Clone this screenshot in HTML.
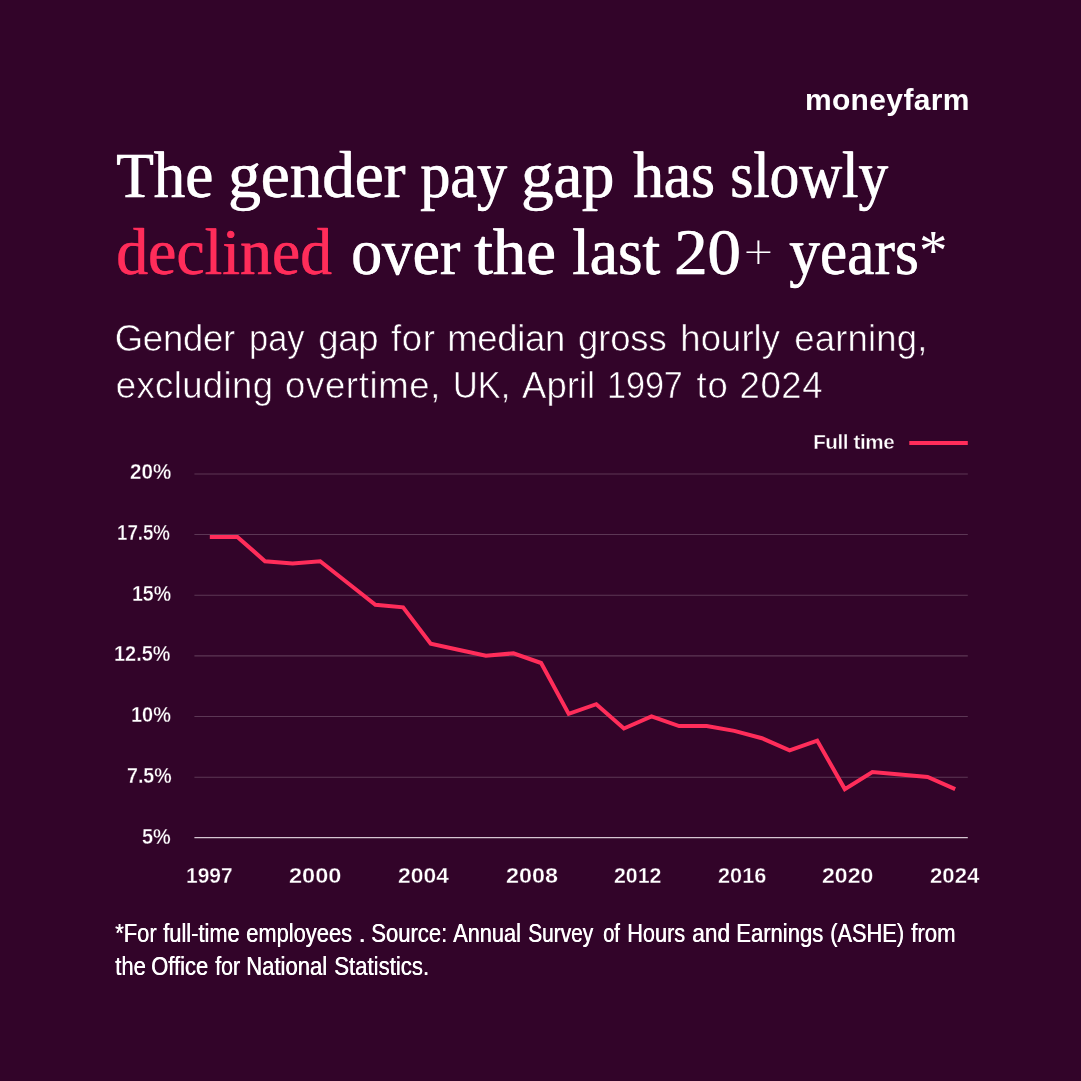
<!DOCTYPE html>
<html><head><meta charset="utf-8"><title>Gender pay gap</title>
<style>
html,body,h1,p,header,footer{margin:0;padding:0;}
body{width:1081px;height:1081px;background:#320429;position:relative;overflow:hidden;font-family:"Liberation Sans",sans-serif;color:#fff;}
.w{position:absolute;white-space:nowrap;line-height:1;display:block;}
svg{position:absolute;left:0;top:0;}
</style></head><body>
<svg width="1081" height="1081" viewBox="0 0 1081 1081">
<g stroke="#5c3755" stroke-width="1.1"><line x1="194.4" x2="967.8" y1="474.0" y2="474.0"/><line x1="194.4" x2="967.8" y1="534.5" y2="534.5"/><line x1="194.4" x2="967.8" y1="595.3" y2="595.3"/><line x1="194.4" x2="967.8" y1="655.9" y2="655.9"/><line x1="194.4" x2="967.8" y1="716.5" y2="716.5"/><line x1="194.4" x2="967.8" y1="777.2" y2="777.2"/></g>
<line x1="194.4" x2="967.8" y1="837.6" y2="837.6" stroke="#d5c6d1" stroke-width="1.2"/>
<line x1="909.3" x2="967.8" y1="443" y2="443" stroke="#ff2d5a" stroke-width="4.1"/>
<polyline fill="none" stroke="#ff2d5a" stroke-width="4" stroke-linejoin="miter" points="209.8,536.9 237.4,536.9 265.0,561.2 292.6,563.6 320.2,561.2 347.8,583.0 375.4,604.8 403.1,607.3 430.7,643.6 458.3,649.7 485.9,655.8 513.5,653.3 541.1,663.0 568.7,713.9 596.3,704.2 623.9,728.5 651.5,716.4 679.1,726.1 706.7,726.1 734.3,730.9 761.9,738.2 789.6,750.3 817.2,740.6 844.8,789.1 872.4,772.1 900.0,774.6 927.6,777.0 955.2,789.1"/>
</svg>
<header>
<span class="w" style="left:804.90px;top:85.20px;font-family:'Liberation Sans',sans-serif;font-size:30px;font-weight:bold;letter-spacing:0.362px;color:#fff;">moneyfarm</span>
</header>
<h1>
<span class="w" style="left:116.34px;top:142.30px;font-family:'Liberation Serif',serif;font-size:66px;font-weight:normal;color:#fff;transform:scaleX(0.9576);transform-origin:0 0;-webkit-text-stroke:0.3px currentColor;text-shadow:0.7px 0 0 currentColor;"><span style="font-size:64px">T</span>he</span>
<span class="w" style="left:227.93px;top:142.30px;font-family:'Liberation Serif',serif;font-size:66px;font-weight:normal;color:#fff;transform:scaleX(0.9865);transform-origin:0 0;-webkit-text-stroke:0.3px currentColor;text-shadow:0.7px 0 0 currentColor;">gender</span>
<span class="w" style="left:420.09px;top:142.30px;font-family:'Liberation Serif',serif;font-size:66px;font-weight:normal;color:#fff;transform:scaleX(0.9116);transform-origin:0 0;-webkit-text-stroke:0.3px currentColor;text-shadow:0.7px 0 0 currentColor;">pay</span>
<span class="w" style="left:521.35px;top:142.30px;font-family:'Liberation Serif',serif;font-size:66px;font-weight:normal;color:#fff;transform:scaleX(0.9772);transform-origin:0 0;-webkit-text-stroke:0.3px currentColor;text-shadow:0.7px 0 0 currentColor;">gap</span>
<span class="w" style="left:632.50px;top:142.30px;font-family:'Liberation Serif',serif;font-size:66px;font-weight:normal;color:#fff;transform:scaleX(0.9276);transform-origin:0 0;-webkit-text-stroke:0.3px currentColor;text-shadow:0.7px 0 0 currentColor;">has</span>
<span class="w" style="left:729.91px;top:142.30px;font-family:'Liberation Serif',serif;font-size:66px;font-weight:normal;color:#fff;transform:scaleX(0.8971);transform-origin:0 0;-webkit-text-stroke:0.3px currentColor;text-shadow:0.7px 0 0 currentColor;">slowly</span>
<span class="w" style="left:116.47px;top:219.30px;font-family:'Liberation Serif',serif;font-size:66px;font-weight:normal;color:#ff2d5a;transform:scaleX(0.9653);transform-origin:0 0;-webkit-text-stroke:0.3px currentColor;text-shadow:0.7px 0 0 currentColor;">declined</span>
<span class="w" style="left:350.74px;top:219.30px;font-family:'Liberation Serif',serif;font-size:66px;font-weight:normal;color:#fff;transform:scaleX(0.9302);transform-origin:0 0;-webkit-text-stroke:0.3px currentColor;text-shadow:0.7px 0 0 currentColor;">over</span>
<span class="w" style="left:474.00px;top:219.30px;font-family:'Liberation Serif',serif;font-size:66px;font-weight:normal;color:#fff;transform:scaleX(1.0127);transform-origin:0 0;-webkit-text-stroke:0.3px currentColor;text-shadow:0.7px 0 0 currentColor;">the</span>
<span class="w" style="left:572.34px;top:219.30px;font-family:'Liberation Serif',serif;font-size:66px;font-weight:normal;color:#fff;transform:scaleX(0.9582);transform-origin:0 0;-webkit-text-stroke:0.3px currentColor;text-shadow:0.7px 0 0 currentColor;">last</span>
<span class="w" style="left:674.36px;top:219.80px;font-family:'Liberation Serif',serif;font-size:65.5px;font-weight:normal;color:#fff;transform:scaleX(1.0177);transform-origin:0 0;-webkit-text-stroke:0.3px currentColor;text-shadow:0.7px 0 0 currentColor;">20</span><span class="w" style="left:742.50px;top:232.30px;font-family:'DejaVu Sans',sans-serif;font-size:38px;font-weight:200;color:#fff;">+</span>
<span class="w" style="left:788.80px;top:219.30px;font-family:'Liberation Serif',serif;font-size:66px;font-weight:normal;color:#fff;transform:scaleX(0.9304);transform-origin:0 0;-webkit-text-stroke:0.3px currentColor;text-shadow:0.7px 0 0 currentColor;">years</span><span class="w" style="left:918.95px;top:222.00px;font-family:'Liberation Serif',serif;font-size:57px;font-weight:normal;color:#fff;">*</span>
</h1>
<p>
<span class="w" style="left:114.70px;top:321.00px;font-family:'Liberation Sans',sans-serif;font-size:36.5px;font-weight:normal;letter-spacing:-0.240px;color:#fff;-webkit-text-stroke:0.6px #320429;">Gender</span>
<span class="w" style="left:248.51px;top:321.00px;font-family:'Liberation Sans',sans-serif;font-size:36.5px;font-weight:normal;color:#fff;transform:scaleX(0.9429);transform-origin:0 0;-webkit-text-stroke:0.6px #320429;">pay</span>
<span class="w" style="left:318.30px;top:321.00px;font-family:'Liberation Sans',sans-serif;font-size:36.5px;font-weight:normal;letter-spacing:-0.300px;color:#fff;-webkit-text-stroke:0.6px #320429;">gap</span>
<span class="w" style="left:391.00px;top:321.00px;font-family:'Liberation Sans',sans-serif;font-size:36.5px;font-weight:normal;letter-spacing:0.650px;color:#fff;-webkit-text-stroke:0.6px #320429;">for</span>
<span class="w" style="left:447.20px;top:321.00px;font-family:'Liberation Sans',sans-serif;font-size:36.5px;font-weight:normal;letter-spacing:-0.300px;color:#fff;-webkit-text-stroke:0.6px #320429;">median</span>
<span class="w" style="left:578.10px;top:321.00px;font-family:'Liberation Sans',sans-serif;font-size:36.5px;font-weight:normal;letter-spacing:-0.175px;color:#fff;-webkit-text-stroke:0.6px #320429;">gross</span>
<span class="w" style="left:680.30px;top:321.00px;font-family:'Liberation Sans',sans-serif;font-size:36.5px;font-weight:normal;letter-spacing:0.060px;color:#fff;-webkit-text-stroke:0.6px #320429;">hourly</span>
<span class="w" style="left:794.30px;top:321.00px;font-family:'Liberation Sans',sans-serif;font-size:36.5px;font-weight:normal;letter-spacing:0.171px;color:#fff;-webkit-text-stroke:0.6px #320429;">earning,</span>
<span class="w" style="left:115.70px;top:368.40px;font-family:'Liberation Sans',sans-serif;font-size:36.5px;font-weight:normal;letter-spacing:0.388px;color:#fff;-webkit-text-stroke:0.6px #320429;">excluding</span>
<span class="w" style="left:285.00px;top:368.40px;font-family:'Liberation Sans',sans-serif;font-size:36.5px;font-weight:normal;letter-spacing:0.663px;color:#fff;-webkit-text-stroke:0.6px #320429;">overtime,</span>
<span class="w" style="left:452.52px;top:368.40px;font-family:'Liberation Sans',sans-serif;font-size:36.5px;font-weight:normal;color:#fff;transform:scaleX(0.9393);transform-origin:0 0;-webkit-text-stroke:0.6px #320429;">UK,</span>
<span class="w" style="left:522.10px;top:368.40px;font-family:'Liberation Sans',sans-serif;font-size:36.5px;font-weight:normal;letter-spacing:0.000px;color:#fff;-webkit-text-stroke:0.6px #320429;">April</span>
<span class="w" style="left:606.53px;top:368.40px;font-family:'Liberation Sans',sans-serif;font-size:36.5px;font-weight:normal;color:#fff;transform:scaleX(0.9333);transform-origin:0 0;-webkit-text-stroke:0.6px #320429;">1997</span>
<span class="w" style="left:696.40px;top:368.40px;font-family:'Liberation Sans',sans-serif;font-size:36.5px;font-weight:normal;letter-spacing:1.000px;color:#fff;-webkit-text-stroke:0.6px #320429;">to</span>
<span class="w" style="left:739.50px;top:368.40px;font-family:'Liberation Sans',sans-serif;font-size:36.5px;font-weight:normal;letter-spacing:0.633px;color:#fff;-webkit-text-stroke:0.6px #320429;">2024</span>
</p>
<div class="legend">
<span class="w" style="left:813.20px;top:431.70px;font-family:'Liberation Sans',sans-serif;font-size:20.6px;font-weight:bold;letter-spacing:-0.400px;color:#fff;-webkit-text-stroke:0.35px #320429;">Full time</span>
</div>
<div class="yaxis">
<span class="w" style="left:129.80px;top:460.80px;font-family:'Liberation Sans',sans-serif;font-size:21.8px;font-weight:bold;color:#fff;transform:scaleX(0.9465);transform-origin:0 0;-webkit-text-stroke:0.35px #320429;">20%</span>
<span class="w" style="left:117.34px;top:522.10px;font-family:'Liberation Sans',sans-serif;font-size:21.8px;font-weight:bold;color:#fff;transform:scaleX(0.8574);transform-origin:0 0;-webkit-text-stroke:0.35px #320429;">17.5%</span>
<span class="w" style="left:132.00px;top:582.60px;font-family:'Liberation Sans',sans-serif;font-size:21.8px;font-weight:bold;color:#fff;transform:scaleX(0.8952);transform-origin:0 0;-webkit-text-stroke:0.35px #320429;">15%</span>
<span class="w" style="left:113.89px;top:643.10px;font-family:'Liberation Sans',sans-serif;font-size:21.8px;font-weight:bold;color:#fff;transform:scaleX(0.9131);transform-origin:0 0;-webkit-text-stroke:0.35px #320429;">12.5%</span>
<span class="w" style="left:131.19px;top:704.10px;font-family:'Liberation Sans',sans-serif;font-size:21.8px;font-weight:bold;color:#fff;transform:scaleX(0.9143);transform-origin:0 0;-webkit-text-stroke:0.35px #320429;">10%</span>
<span class="w" style="left:126.50px;top:764.60px;font-family:'Liberation Sans',sans-serif;font-size:21.8px;font-weight:bold;color:#fff;transform:scaleX(0.8979);transform-origin:0 0;-webkit-text-stroke:0.35px #320429;">7.5%</span>
<span class="w" style="left:142.19px;top:825.60px;font-family:'Liberation Sans',sans-serif;font-size:21.8px;font-weight:bold;color:#fff;transform:scaleX(0.9133);transform-origin:0 0;-webkit-text-stroke:0.35px #320429;">5%</span>
</div>
<div class="xaxis">
<span class="w" style="left:185.72px;top:865.65px;font-family:'Liberation Sans',sans-serif;font-size:21.4px;font-weight:bold;color:#fff;transform:scaleX(0.9804);transform-origin:0 0;-webkit-text-stroke:0.35px #320429;">1997</span>
<span class="w" style="left:289.20px;top:865.65px;font-family:'Liberation Sans',sans-serif;font-size:21.4px;font-weight:bold;color:#fff;transform:scaleX(1.1021);transform-origin:0 0;-webkit-text-stroke:0.35px #320429;">2000</span>
<span class="w" style="left:397.60px;top:865.65px;font-family:'Liberation Sans',sans-serif;font-size:21.4px;font-weight:bold;color:#fff;transform:scaleX(1.0708);transform-origin:0 0;-webkit-text-stroke:0.35px #320429;">2004</span>
<span class="w" style="left:506.00px;top:865.65px;font-family:'Liberation Sans',sans-serif;font-size:21.4px;font-weight:bold;color:#fff;transform:scaleX(1.0936);transform-origin:0 0;-webkit-text-stroke:0.35px #320429;">2008</span>
<span class="w" style="left:614.10px;top:865.65px;font-family:'Liberation Sans',sans-serif;font-size:21.4px;font-weight:bold;color:#fff;transform:scaleX(0.9979);transform-origin:0 0;-webkit-text-stroke:0.35px #320429;">2012</span>
<span class="w" style="left:718.10px;top:865.65px;font-family:'Liberation Sans',sans-serif;font-size:21.4px;font-weight:bold;color:#fff;transform:scaleX(1.0149);transform-origin:0 0;-webkit-text-stroke:0.35px #320429;">2016</span>
<span class="w" style="left:822.40px;top:865.65px;font-family:'Liberation Sans',sans-serif;font-size:21.4px;font-weight:bold;color:#fff;transform:scaleX(1.0787);transform-origin:0 0;-webkit-text-stroke:0.35px #320429;">2020</span>
<span class="w" style="left:929.90px;top:865.65px;font-family:'Liberation Sans',sans-serif;font-size:21.4px;font-weight:bold;color:#fff;transform:scaleX(1.0375);transform-origin:0 0;-webkit-text-stroke:0.35px #320429;">2024</span>
</div>
<footer>
<span class="w" style="left:114.70px;top:920.00px;font-family:'Liberation Sans',sans-serif;font-size:26.5px;font-weight:normal;color:#fff;transform:scaleX(0.8280);transform-origin:0 0;text-shadow:0.5px 0 0 currentColor;">*For</span>
<span class="w" style="left:162.70px;top:920.00px;font-family:'Liberation Sans',sans-serif;font-size:26.5px;font-weight:normal;color:#fff;transform:scaleX(0.8250);transform-origin:0 0;text-shadow:0.5px 0 0 currentColor;">full-time</span>
<span class="w" style="left:245.77px;top:920.00px;font-family:'Liberation Sans',sans-serif;font-size:26.5px;font-weight:normal;color:#fff;transform:scaleX(0.8260);transform-origin:0 0;text-shadow:0.5px 0 0 currentColor;">employees</span>
<span class="w" style="left:358.15px;top:920.00px;font-family:'Liberation Sans',sans-serif;font-size:26.5px;font-weight:normal;color:#fff;text-shadow:0.5px 0 0 currentColor;">.</span>
<span class="w" style="left:371.37px;top:920.00px;font-family:'Liberation Sans',sans-serif;font-size:26.5px;font-weight:normal;color:#fff;transform:scaleX(0.8326);transform-origin:0 0;text-shadow:0.5px 0 0 currentColor;">Source:</span>
<span class="w" style="left:452.70px;top:920.00px;font-family:'Liberation Sans',sans-serif;font-size:26.5px;font-weight:normal;color:#fff;transform:scaleX(0.8207);transform-origin:0 0;text-shadow:0.5px 0 0 currentColor;">Annual</span>
<span class="w" style="left:528.31px;top:920.00px;font-family:'Liberation Sans',sans-serif;font-size:26.5px;font-weight:normal;color:#fff;transform:scaleX(0.7878);transform-origin:0 0;text-shadow:0.5px 0 0 currentColor;">Survey</span>
<span class="w" style="left:602.65px;top:920.00px;font-family:'Liberation Sans',sans-serif;font-size:26.5px;font-weight:normal;color:#fff;transform:scaleX(0.7545);transform-origin:0 0;text-shadow:0.5px 0 0 currentColor;">of</span>
<span class="w" style="left:626.76px;top:920.00px;font-family:'Liberation Sans',sans-serif;font-size:26.5px;font-weight:normal;color:#fff;transform:scaleX(0.8203);transform-origin:0 0;text-shadow:0.5px 0 0 currentColor;">Hours</span>
<span class="w" style="left:691.64px;top:920.00px;font-family:'Liberation Sans',sans-serif;font-size:26.5px;font-weight:normal;color:#fff;transform:scaleX(0.8571);transform-origin:0 0;text-shadow:0.5px 0 0 currentColor;">and</span>
<span class="w" style="left:735.74px;top:920.00px;font-family:'Liberation Sans',sans-serif;font-size:26.5px;font-weight:normal;color:#fff;transform:scaleX(0.8324);transform-origin:0 0;text-shadow:0.5px 0 0 currentColor;">Earnings</span>
<span class="w" style="left:829.58px;top:920.00px;font-family:'Liberation Sans',sans-serif;font-size:26.5px;font-weight:normal;color:#fff;transform:scaleX(0.8227);transform-origin:0 0;text-shadow:0.5px 0 0 currentColor;">(ASHE)</span>
<span class="w" style="left:910.50px;top:920.00px;font-family:'Liberation Sans',sans-serif;font-size:26.5px;font-weight:normal;color:#fff;transform:scaleX(0.8385);transform-origin:0 0;text-shadow:0.5px 0 0 currentColor;">from</span>
<span class="w" style="left:114.70px;top:952.80px;font-family:'Liberation Sans',sans-serif;font-size:26.5px;font-weight:normal;color:#fff;transform:scaleX(0.8333);transform-origin:0 0;text-shadow:0.5px 0 0 currentColor;">the</span>
<span class="w" style="left:151.37px;top:952.80px;font-family:'Liberation Sans',sans-serif;font-size:26.5px;font-weight:normal;color:#fff;transform:scaleX(0.8284);transform-origin:0 0;text-shadow:0.5px 0 0 currentColor;">Office</span>
<span class="w" style="left:214.60px;top:952.80px;font-family:'Liberation Sans',sans-serif;font-size:26.5px;font-weight:normal;color:#fff;transform:scaleX(0.8065);transform-origin:0 0;text-shadow:0.5px 0 0 currentColor;">for</span>
<span class="w" style="left:246.23px;top:952.80px;font-family:'Liberation Sans',sans-serif;font-size:26.5px;font-weight:normal;color:#fff;transform:scaleX(0.8330);transform-origin:0 0;text-shadow:0.5px 0 0 currentColor;">National</span>
<span class="w" style="left:333.96px;top:952.80px;font-family:'Liberation Sans',sans-serif;font-size:26.5px;font-weight:normal;color:#fff;transform:scaleX(0.8369);transform-origin:0 0;text-shadow:0.5px 0 0 currentColor;">Statistics.</span>
</footer>
</body></html>
